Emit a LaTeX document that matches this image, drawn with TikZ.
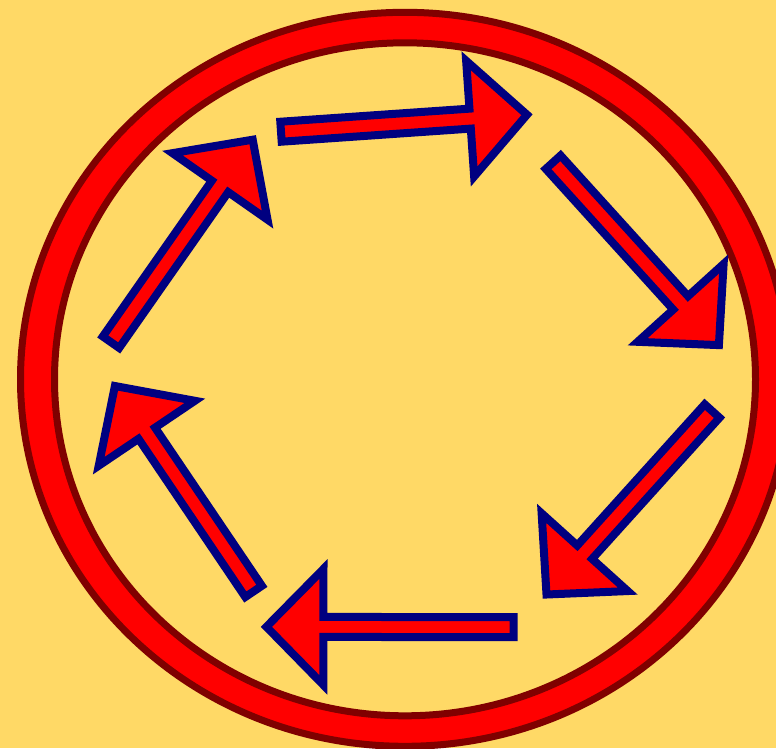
\documentclass[tikz,border=0pt]{standalone}
\usetikzlibrary{calc}
\definecolor{bgyellow}{HTML}{FFD966}
\definecolor{ringred}{HTML}{FF0000}
\definecolor{ringdark}{HTML}{800000}
\definecolor{arrowblue}{HTML}{000080}
\tikzset{
  ringedge/.style={draw=ringdark, line width=7pt},
  blockarr/.style={fill=ringred, draw=arrowblue, line width=8pt, line join=miter},
}
% #1 tail coordinate name, #2 tip coordinate name
\newcommand{\myblockarrow}[2]{%
  \coordinate (#2neck) at ($(#2)!57pt!(#1)$);
  \draw[blockarr]
    ($(#1)!10pt!90:(#2)$) --
    ($(#2neck)!10pt!90:(#2)$) --
    ($(#2neck)!58pt!90:(#2)$) --
    (#2) --
    ($(#2neck)!58pt!-90:(#2)$) --
    ($(#2neck)!10pt!-90:(#2)$) --
    ($(#1)!10pt!-90:(#2)$) -- cycle;
}
\begin{document}
\begin{tikzpicture}[x=1pt,y=-1pt]
\useasboundingbox (0,0) rectangle (776,748);
\fill[bgyellow] (0,0) rectangle (776,748);
% ring
\coordinate (c) at (405,379.3);
\fill[ringred, even odd rule] (c) ellipse [x radius=384.5pt, y radius=367pt]
  (c) ellipse [x radius=350.5pt, y radius=336.5pt];
\draw[ringedge] (c) ellipse [x radius=384.5pt, y radius=367pt];
\draw[ringedge] (c) ellipse [x radius=350.5pt, y radius=336.5pt];
% arrows
\coordinate (t1) at (281,131.7);   \coordinate (p1) at (527,114.7);
\coordinate (t2) at (553.2,162.2); \coordinate (p2) at (718.9,345.1);
\coordinate (t3) at (712.1,411);   \coordinate (p3) at (546.5,594.5);
\coordinate (t4) at (513.7,627.2); \coordinate (p4) at (266.4,626.8);
\coordinate (t5) at (253.6,591.4); \coordinate (p5) at (114.9,386);
\coordinate (t6) at (111,342.2);   \coordinate (p6) at (252.7,139.7);
\myblockarrow{t1}{p1}
\myblockarrow{t2}{p2}
\myblockarrow{t3}{p3}
\myblockarrow{t4}{p4}
\myblockarrow{t5}{p5}
\myblockarrow{t6}{p6}
\end{tikzpicture}
\end{document}
